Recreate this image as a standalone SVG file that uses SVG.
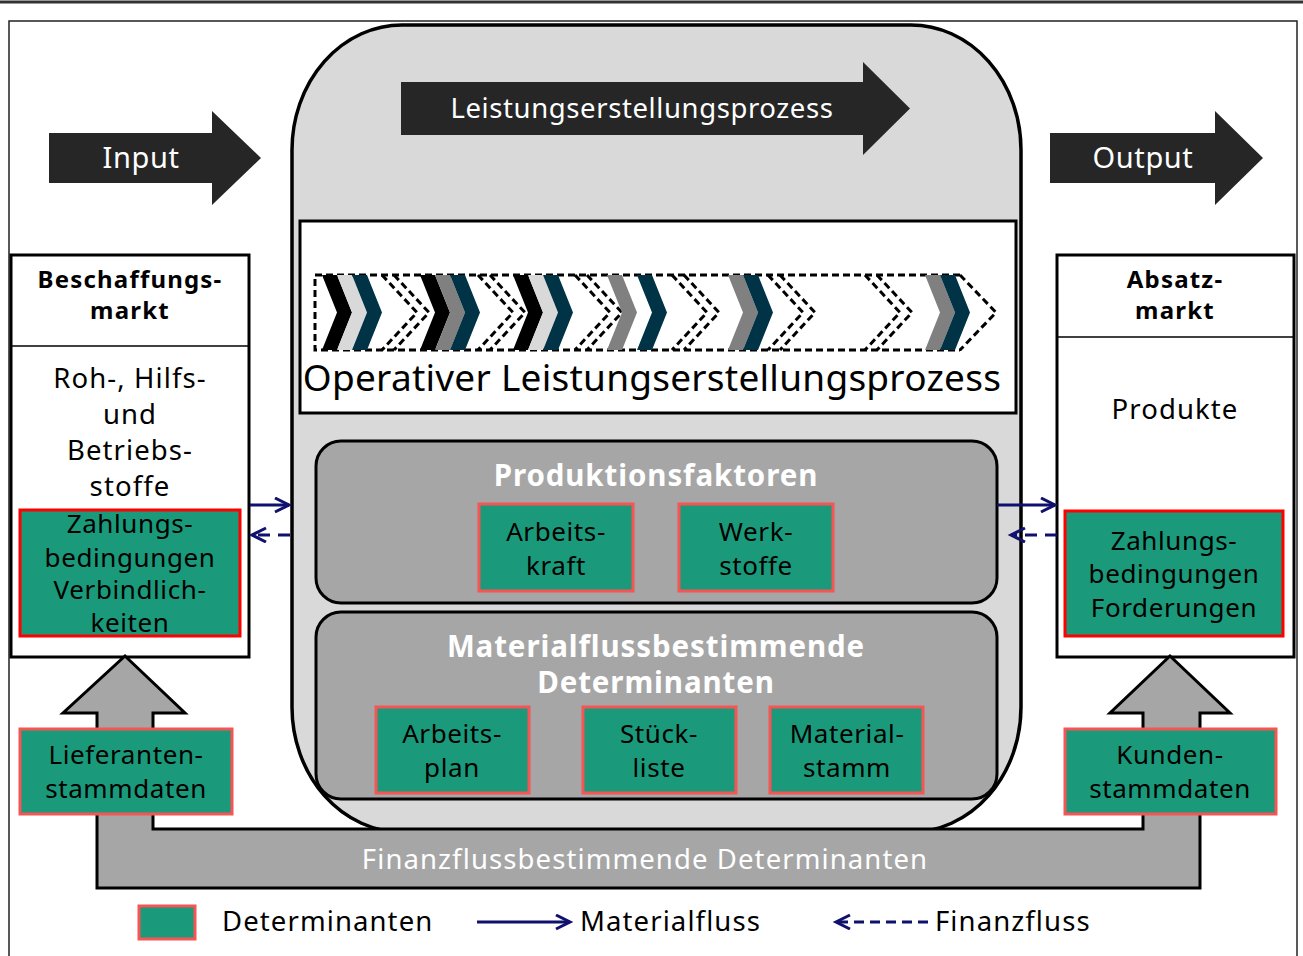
<svg xmlns="http://www.w3.org/2000/svg" width="1303" height="956" viewBox="0 0 1303 956">
  <style>
    text { font-family: "Noto Sans", "Liberation Sans", sans-serif; text-anchor: middle; }
    .t26 { font-size: 26px; letter-spacing: 0.6px; fill: #000; }
    .t27 { font-size: 27.5px; letter-spacing: 1.1px; fill: #000; }
    .head { font-size: 24px; font-weight: bold; letter-spacing: 1.2px; fill: #000; }
    .title { font-size: 29.5px; font-weight: bold; letter-spacing: 0.9px; fill: #fff; }
    .white { fill: #fff; }
    .box { fill: #fff; stroke: #000; stroke-width: 3; }
    .det { fill: #1a9a7a; stroke: #f55555; stroke-width: 3; }
    .detStrong { fill: #1a9a7a; stroke: #ff0000; stroke-width: 3; }
    .grey { fill: #a6a6a6; stroke: #000; stroke-width: 3; }
    .dark { fill: #262626; }
    .flow { fill: none; stroke: #10106e; stroke-width: 3; }
    .dashflow { fill: none; stroke: #10106e; stroke-width: 3; stroke-dasharray: 12 8; }
    .dchev { fill: none; stroke: #000; stroke-width: 3; stroke-dasharray: 7 4; }
    .c-black { fill: #000; }
    .c-light { fill: #d9d9d9; }
    .c-mid { fill: #808080; }
    .c-teal { fill: #003345; }
  </style>
  <defs>
    <marker id="head" markerUnits="userSpaceOnUse" markerWidth="20" markerHeight="20" refX="15" refY="8" orient="auto">
      <path d="M1,1 L15,8 L1,15" fill="none" stroke="#10106e" stroke-width="3" stroke-dasharray="none"/>
    </marker>
    <!-- filled step chevron, origin at its top-left corner -->
    <path id="chev" d="M0,0 H15 L30,37.5 L15,75 H0 L15,37.5 Z"/>
    <!-- outlined (open) step chevron -->
    <path id="dchev" d="M0,0 L35,37.5 L0,75 M12,0 L47,37.5 L12,75"/>
  </defs>

  <!-- page rule and frame -->
  <line x1="0" y1="2" x2="1303" y2="2" stroke="#333" stroke-width="3"/>
  <rect x="9" y="21" width="1288" height="950" fill="#fff" stroke="#222" stroke-width="1.5"/>

  <!-- production area -->
  <g id="produktion">
    <rect x="292" y="25" width="729" height="807" rx="110" ry="125" fill="#d9d9d9" stroke="#000" stroke-width="3.5"/>
    <path class="dark" d="M401,82 H863 V62 L910,108.5 L863,155 V135 H401 Z"/>
    <text class="white" x="642" y="118" font-size="27.5" letter-spacing="0.6">Leistungserstellungsprozess</text>
  </g>

  <!-- operative process with step chevrons -->
  <g id="operativ">
    <rect class="box" x="300" y="221" width="716" height="192"/>
    <path class="dchev" d="M960,275 H315 V350 H960 M960,275 L996,312.5 L960,350"/>
    <g transform="translate(0,275)">
      <use href="#chev" x="322" class="c-black"/>
      <use href="#chev" x="337" class="c-light"/>
      <use href="#chev" x="352" class="c-teal"/>
      <use href="#dchev" x="382" class="dchev"/>
      <use href="#chev" x="420" class="c-black"/>
      <use href="#chev" x="435" class="c-mid"/>
      <use href="#chev" x="450" class="c-teal"/>
      <use href="#dchev" x="478" class="dchev"/>
      <use href="#chev" x="513" class="c-black"/>
      <use href="#chev" x="528" class="c-light"/>
      <use href="#chev" x="543" class="c-teal"/>
      <use href="#dchev" x="575" class="dchev"/>
      <use href="#chev" x="607" class="c-mid"/>
      <use href="#chev" x="637" class="c-teal"/>
      <use href="#dchev" x="672" class="dchev"/>
      <use href="#chev" x="728" class="c-mid"/>
      <use href="#chev" x="743" class="c-teal"/>
      <use href="#dchev" x="768" class="dchev"/>
      <use href="#dchev" x="865" class="dchev"/>
      <use href="#chev" x="925" class="c-mid"/>
      <use href="#chev" x="940" class="c-teal"/>
    </g>
    <text x="652" y="391" font-size="37" letter-spacing="0.25">Operativer Leistungserstellungsprozess</text>
  </g>

  <!-- production factors -->
  <g id="produktionsfaktoren">
    <rect class="grey" x="316" y="441" width="681" height="162" rx="25"/>
    <text class="title" x="656" y="486">Produktionsfaktoren</text>
  </g>
  <g id="arbeitskraft">
    <rect class="det" x="479" y="504" width="154" height="87"/>
    <text class="t26" x="556" y="541">Arbeits-</text>
    <text class="t26" x="556" y="575">kraft</text>
  </g>
  <g id="werkstoffe">
    <rect class="det" x="679" y="504" width="154" height="87"/>
    <text class="t26" x="756" y="541">Werk-</text>
    <text class="t26" x="756" y="575">stoffe</text>
  </g>

  <!-- material flow determinants -->
  <g id="materialfluss-determinanten">
    <rect class="grey" x="316" y="612" width="681" height="187" rx="25"/>
    <text class="title" x="656" y="657">Materialflussbestimmende</text>
    <text class="title" x="656" y="693">Determinanten</text>
  </g>
  <g id="arbeitsplan">
    <rect class="det" x="376" y="707" width="153" height="86"/>
    <text class="t26" x="452" y="743">Arbeits-</text>
    <text class="t26" x="452" y="777">plan</text>
  </g>
  <g id="stueckliste">
    <rect class="det" x="583" y="707" width="153" height="86"/>
    <text class="t26" x="659" y="743">Stück-</text>
    <text class="t26" x="659" y="777">liste</text>
  </g>
  <g id="materialstamm">
    <rect class="det" x="770" y="707" width="153" height="86"/>
    <text class="t26" x="847" y="743">Material-</text>
    <text class="t26" x="847" y="777">stamm</text>
  </g>

  <!-- input / output -->
  <g id="input">
    <path class="dark" d="M49,133 H212 V111 L261,158 L212,205 V183 H49 Z"/>
    <text class="white" x="141" y="168" font-size="29" letter-spacing="0.6">Input</text>
  </g>
  <g id="output">
    <path class="dark" d="M1050,133 H1215 V111 L1263,158 L1215,205 V183 H1050 Z"/>
    <text class="white" x="1143" y="168" font-size="29" letter-spacing="0.6">Output</text>
  </g>

  <!-- procurement market -->
  <g id="beschaffungsmarkt">
    <rect class="box" x="11" y="255" width="238" height="402"/>
    <line x1="11" y1="346" x2="249" y2="346" stroke="#000" stroke-width="1.5"/>
    <text class="head" x="130" y="288">Beschaffungs-</text>
    <text class="head" x="130" y="319">markt</text>
    <text class="t27" x="130" y="388">Roh-, Hilfs-</text>
    <text class="t27" x="130" y="424">und</text>
    <text class="t27" x="130" y="460">Betriebs-</text>
    <text class="t27" x="130" y="496">stoffe</text>
  </g>
  <g id="verbindlichkeiten">
    <rect class="detStrong" x="20" y="510" width="220" height="126"/>
    <text class="t26" x="130" y="533">Zahlungs-</text>
    <text class="t26" x="130" y="567">bedingungen</text>
    <text class="t26" x="130" y="599">Verbindlich-</text>
    <text class="t26" x="130" y="632">keiten</text>
  </g>

  <!-- sales market -->
  <g id="absatzmarkt">
    <rect class="box" x="1057" y="255" width="237" height="402"/>
    <line x1="1057" y1="337" x2="1294" y2="337" stroke="#000" stroke-width="1.5"/>
    <text class="head" x="1175" y="288">Absatz-</text>
    <text class="head" x="1175" y="319">markt</text>
    <text class="t27" x="1175" y="419">Produkte</text>
  </g>
  <g id="forderungen">
    <rect class="detStrong" x="1065" y="511" width="218" height="125"/>
    <text class="t26" x="1174" y="550">Zahlungs-</text>
    <text class="t26" x="1174" y="583">bedingungen</text>
    <text class="t26" x="1174" y="617">Forderungen</text>
  </g>

  <!-- financial flow determinants (U-shaped double arrow) -->
  <g id="finanzfluss-determinanten">
    <path class="grey" d="M125,656 L185,713 H153 V829 H1143 V713 H1110 L1170,656 L1230,713 H1200 V888 H97 V713 H63 Z"/>
    <text class="white" x="645" y="869" font-size="27.5" letter-spacing="1.1">Finanzflussbestimmende Determinanten</text>
  </g>
  <g id="lieferantenstammdaten">
    <rect class="det" x="20" y="729" width="212" height="85"/>
    <text class="t26" x="126" y="764">Lieferanten-</text>
    <text class="t26" x="126" y="798">stammdaten</text>
  </g>
  <g id="kundenstammdaten">
    <rect class="det" x="1065" y="729" width="211" height="85"/>
    <text class="t26" x="1170" y="764">Kunden-</text>
    <text class="t26" x="1170" y="798">stammdaten</text>
  </g>

  <!-- material and financial flows -->
  <g id="connectors">
    <path class="flow" d="M250,505 H289" marker-end="url(#head)"/>
    <path class="dashflow" d="M290,535 H252" marker-end="url(#head)"/>
    <path class="flow" d="M997,505 H1055" marker-end="url(#head)"/>
    <path class="dashflow" d="M1057,535 H1011" marker-end="url(#head)"/>
  </g>

  <!-- legend -->
  <g id="legend">
    <rect class="det" x="139" y="906" width="56" height="33"/>
    <text class="t27" x="222" y="931" style="text-anchor:start">Determinanten</text>
    <path class="flow" d="M477,922 H570" marker-end="url(#head)"/>
    <text class="t27" x="580" y="931" style="text-anchor:start">Materialfluss</text>
    <path class="flow" d="M928,922 H836" style="stroke-dasharray:10 6" marker-end="url(#head)"/>
    <text class="t27" x="935" y="931" style="text-anchor:start">Finanzfluss</text>
  </g>
</svg>
